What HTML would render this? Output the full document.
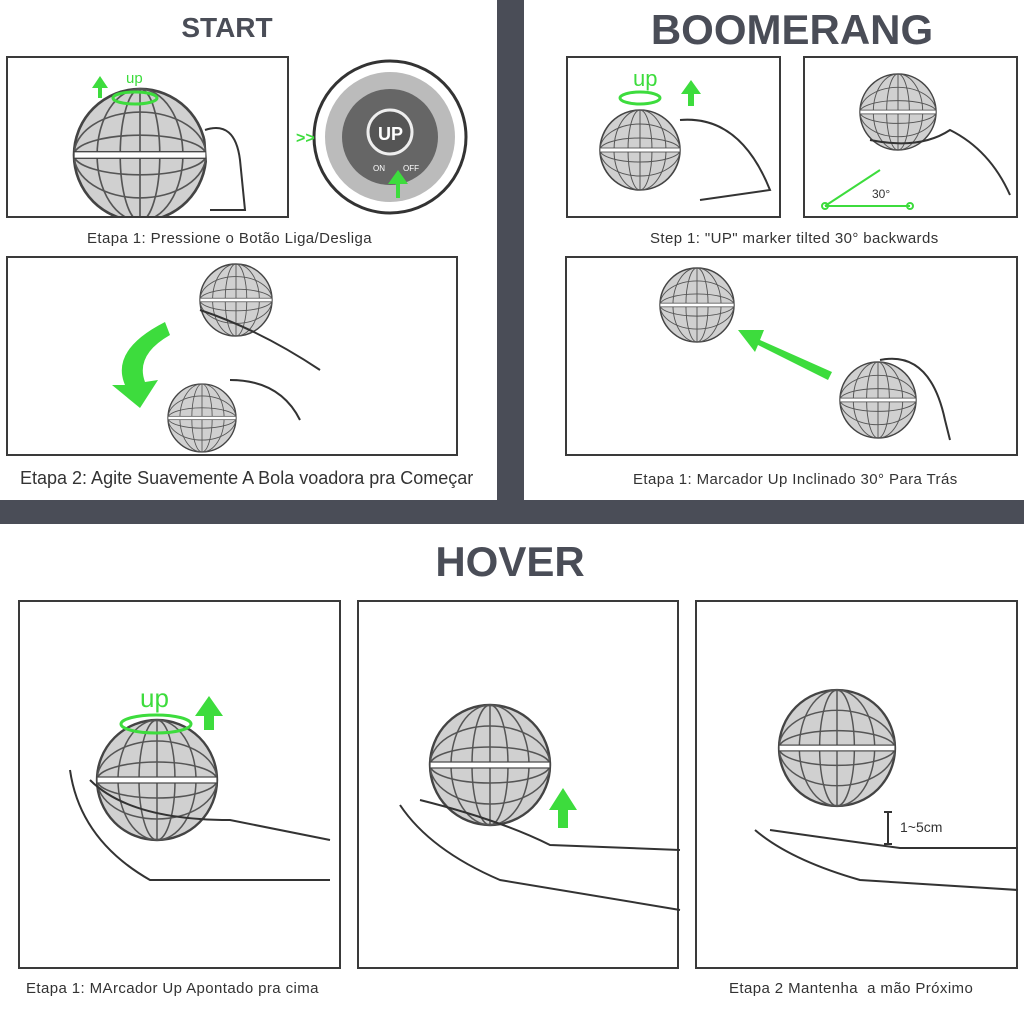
<!DOCTYPE html>
<html><head><meta charset="utf-8"><style>
body{margin:0;width:1024px;height:1024px;background:#fff;position:relative;overflow:hidden;font-family:"Liberation Sans",sans-serif}
.a{position:absolute}
.box{position:absolute;border:2px solid #3a3a3a;background:#fff;box-sizing:border-box}
.cap{position:absolute;color:#333;font-size:15px;letter-spacing:0.4px;white-space:nowrap}
.t{position:absolute;color:#4a4d57;font-weight:bold;text-align:center}
</style></head><body>
<div class="a" style="left:0;top:500px;width:1024px;height:24px;background:#4a4d57"></div>
<div class="a" style="left:497px;top:0;width:27px;height:524px;background:#4a4d57"></div>
<div class="a" style="left:0;top:0;width:497px;height:500px;background:#fff;border-bottom-right-radius:14px"></div>
<div class="a" style="left:524px;top:0;width:500px;height:500px;background:#fff;border-bottom-left-radius:14px"></div>

<div class="t" style="left:127px;top:12px;width:200px;font-size:28px">START</div>
<div class="t" style="left:592px;top:6px;width:400px;font-size:42px">BOOMERANG</div>
<div class="t" style="left:360px;top:538px;width:300px;font-size:42px">HOVER</div>

<div class="box" style="left:6px;top:56px;width:283px;height:162px"></div>
<div class="box" style="left:6px;top:256px;width:452px;height:200px"></div>
<div class="box" style="left:566px;top:56px;width:215px;height:162px"></div>
<div class="box" style="left:803px;top:56px;width:215px;height:162px"></div>
<div class="box" style="left:565px;top:256px;width:453px;height:200px"></div>
<div class="box" style="left:18px;top:600px;width:323px;height:369px"></div>
<div class="box" style="left:357px;top:600px;width:322px;height:369px"></div>
<div class="box" style="left:695px;top:600px;width:323px;height:369px"></div>

<div class="cap" style="left:87px;top:230px">Etapa 1: Pressione o Botão Liga/Desliga</div>
<div class="cap" style="left:20px;top:468px;font-size:18px;letter-spacing:0">Etapa 2: Agite Suavemente A Bola voadora pra Começar</div>
<div class="cap" style="left:650px;top:230px">Step 1: "UP" marker tilted 30° backwards</div>
<div class="cap" style="left:633px;top:471px">Etapa 1: Marcador Up Inclinado 30° Para Trás</div>
<div class="cap" style="left:26px;top:980px">Etapa 1: MArcador Up Apontado pra cima</div>
<div class="cap" style="left:729px;top:980px">Etapa 2 Mantenha &nbsp;a mão Próximo</div>

<svg class="a" style="left:0;top:0" width="1024" height="1024">
<defs>
<g id="ball">
<circle r="1" fill="#d0d0d0" stroke="#444" stroke-width="0.04"/>
<g stroke="#555" stroke-width="0.025" fill="none">
<ellipse rx="1" ry="0.3"/><ellipse rx="1" ry="0.65"/><ellipse rx="0.3" ry="1"/><ellipse rx="0.65" ry="1"/>
<line x1="-1" y1="0" x2="1" y2="0"/><line x1="0" y1="-1" x2="0" y2="1"/>
</g>
<rect x="-1" y="-0.05" width="2" height="0.1" fill="#fff" stroke="#444" stroke-width="0.02"/>
</g>
<clipPath id="c1"><rect x="8" y="58" width="279" height="158"/></clipPath>
</defs>
<g clip-path="url(#c1)">
<use href="#ball" transform="translate(140,155) scale(66)"/>
<path d="M205,130 Q235,120 240,160 L245,210 L210,210" fill="#fff" stroke="#333" stroke-width="2"/>
</g>
<ellipse cx="135" cy="98" rx="22" ry="6" fill="none" stroke="#3ddc3d" stroke-width="3"/>
<text x="126" y="83" font-size="15" fill="#3ddc3d" font-family="Liberation Sans">up</text>
<path d="M98,98 v-10 h-6 l8,-12 l8,12 h-6 v10z" fill="#3ddc3d"/>
<circle cx="390" cy="137" r="76" fill="#fff" stroke="#333" stroke-width="3"/>
<circle cx="390" cy="137" r="65" fill="#bbb"/>
<circle cx="390" cy="137" r="48" fill="#666"/>
<circle cx="390" cy="132" r="22" fill="#555" stroke="#eee" stroke-width="3"/>
<text x="378" y="140" font-size="18" font-weight="bold" fill="#fff" font-family="Liberation Sans">UP</text>
<text x="373" y="171" font-size="8" fill="#fff" font-family="Liberation Sans">ON</text>
<text x="403" y="171" font-size="8" fill="#fff" font-family="Liberation Sans">OFF</text>
<path d="M396,198 v-14 h-8 l10,-14 l10,14 h-8 v14z" fill="#3ddc3d"/>
<text x="296" y="143" font-size="16" font-weight="bold" fill="#3ddc3d" font-family="Liberation Sans">&gt;&gt;</text>
<use href="#ball" transform="translate(236,300) scale(36)"/>
<use href="#ball" transform="translate(202,418) scale(34)"/>
<path d="M200,310 Q260,330 320,370 M230,380 Q280,380 300,420" fill="none" stroke="#333" stroke-width="2"/>
<path d="M165,322 Q110,350 125,385 L112,385 L140,408 L158,380 L145,382 Q135,355 170,335z" fill="#3ddc3d"/>
<use href="#ball" transform="translate(640,150) scale(40)"/>
<path d="M680,120 Q740,115 770,190 L700,200" fill="none" stroke="#333" stroke-width="2"/>
<ellipse cx="640" cy="98" rx="20" ry="6" fill="none" stroke="#3ddc3d" stroke-width="3"/>
<text x="633" y="86" font-size="22" fill="#3ddc3d" font-family="Liberation Sans">up</text>
<path d="M688,106 v-12 h-7 l10,-14 l10,14 h-7 v12z" fill="#3ddc3d"/>
<use href="#ball" transform="translate(898,112) scale(38)"/>
<path d="M870,140 Q920,150 950,130 Q990,150 1010,195" fill="none" stroke="#333" stroke-width="2"/>
<path d="M825,206 L910,206 M825,206 L880,170" stroke="#3ddc3d" stroke-width="2"/>
<circle cx="825" cy="206" r="3" fill="none" stroke="#3ddc3d" stroke-width="2"/>
<circle cx="910" cy="206" r="3" fill="none" stroke="#3ddc3d" stroke-width="2"/>
<text x="872" y="198" font-size="12" fill="#333" font-family="Liberation Sans">30°</text>
<use href="#ball" transform="translate(697,305) scale(37)"/>
<use href="#ball" transform="translate(878,400) scale(38)"/>
<path d="M880,360 Q930,350 945,420 L950,440" fill="none" stroke="#333" stroke-width="2"/>
<path d="M832,372 L760,340 L764,330 L738,330 L755,352 L758,345 L828,380z" fill="#3ddc3d"/>
<use href="#ball" transform="translate(157,780) scale(60)"/>
<path d="M70,770 Q80,840 150,880 L330,880 M90,780 Q130,820 230,820 L330,840" fill="none" stroke="#333" stroke-width="2"/>
<ellipse cx="156" cy="724" rx="35" ry="9" fill="none" stroke="#3ddc3d" stroke-width="3"/>
<text x="140" y="707" font-size="26" fill="#3ddc3d" font-family="Liberation Sans">up</text>
<path d="M204,730 v-14 h-9 l14,-20 l14,20 h-9 v14z" fill="#3ddc3d"/>
<use href="#ball" transform="translate(490,765) scale(60)"/>
<path d="M400,805 Q430,850 500,880 L680,910 M420,800 Q500,820 550,845 L680,850" fill="none" stroke="#333" stroke-width="2"/>
<path d="M558,828 v-18 h-9 l14,-22 l14,22 h-9 v18z" fill="#3ddc3d"/>
<use href="#ball" transform="translate(837,748) scale(58)"/>
<path d="M755,830 Q790,860 860,880 L1018,890 M770,830 Q840,840 900,848 L1018,848" fill="none" stroke="#333" stroke-width="2"/>
<path d="M888,812 v32 M884,812 h8 M884,844 h8" stroke="#333" stroke-width="2"/>
<text x="900" y="832" font-size="14" fill="#333" font-family="Liberation Sans">1~5cm</text>
</svg>
</body></html>
